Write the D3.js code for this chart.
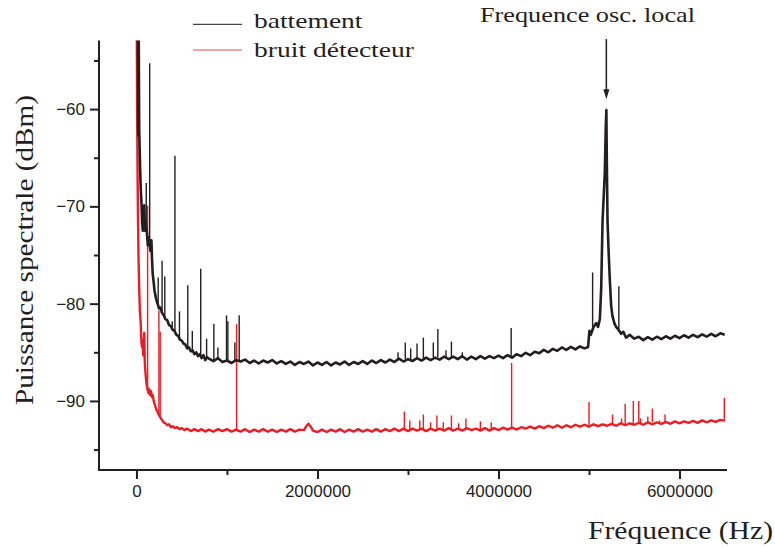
<!DOCTYPE html>
<html><head><meta charset="utf-8">
<script src="https://cdn.jsdelivr.net/npm/d3@7"></script>
<style>body{margin:0;background:#fff} svg{display:block}</style>
</head><body><svg id="chart" width="775" height="548"></svg>
<script>
// ---------- data (frequencies in kHz, power in dBm) ----------
const battFreqKHz = [0,15,20,25,30,40,48,55,62,70,78,86,94,102,116,125,135,155,165,172,180,190,200,210,225,237,250,265,280,300,320,340,360,380,400,420,440,460,480,500,520,540,560,580,600,620,640,660,680,700,720,740,760,780,
800,850,900,950,1000,1050,1100,1150,1200,1250,1300,1350,1400,1450,1500,1550,1600,1650,1700,1750,1800,1850,1900,1950,
2000,2050,2100,2150,2200,2250,2300,2350,2400,2450,2500,2550,2600,2650,2700,2750,2800,2850,2900,2950,
3000,3050,3100,3150,3200,3250,3300,3350,3400,3450,3500,3550,3600,3650,3700,3750,3800,3850,3900,3950,
4000,4050,4100,4150,4200,4250,4300,4350,4400,4450,4500,4550,4600,4650,4700,4750,4800,4850,4900,4950,4990,
5005,5020,5050,5080,5100,5120,5135,5150,5165,5175,5185,5192,5198,5205,5215,5230,5245,5260,5280,5300,5320,5355,5380,5410,5450,
5500,5550,5600,5650,5700,5750,5800,5850,5900,5950,6000,6050,6100,6150,6200,6250,6300,6350,6400,6450,6500];
const battDbm = [-45,-52,-62.7,-52,-62,-66,-68.4,-69.5,-71.5,-72.5,-70.8,-69.9,-72.5,-71.5,-72.8,-74,-73.2,-74.6,-73.5,-75.5,-77,-77.8,-78.7,-79.2,-79.8,-80.1,-80.5,-80.4,-80.9,-81.2,-81.6,-81.7,-82.2,-82.3,-82.7,-82.8,-83.2,-83.3,-83.7,-83.8,-84.1,-84.2,-84.6,-84.5,-84.9,-84.8,-85.2,-85.0,-85.4,-85.2,-85.6,-85.3,-85.8,-85.5,
-85.65,-85.92,-85.6,-86.0,-85.85,-86.1,-85.8,-85.95,-85.75,-86.1,-85.85,-86.15,-85.85,-86.05,-85.8,-86.15,-85.9,-86.2,-85.95,-86.3,-86.0,-86.2,-85.95,-86.35,
-86.05,-86.3,-86.0,-86.35,-86.05,-86.25,-85.95,-86.3,-86.0,-86.2,-85.9,-86.2,-85.85,-86.1,-85.8,-86.05,-85.75,-86.0,-85.65,-85.95,
-85.7,-85.9,-85.6,-85.85,-85.55,-85.8,-85.55,-85.75,-85.45,-85.7,-85.45,-85.7,-85.4,-85.75,-85.45,-85.7,-85.4,-85.65,-85.4,-85.6,
-85.35,-85.6,-85.3,-85.55,-85.2,-85.4,-85.05,-85.3,-84.95,-85.1,-84.75,-85.0,-84.65,-84.85,-84.5,-84.75,-84.45,-84.7,-84.4,-84.6,-84.45,
-82.8,-83.2,-82.4,-82.0,-82.4,-81.6,-78.4,-71.5,-68.5,-66.5,-62,-60.1,-66,-71.5,-74.2,-77.5,-80.2,-81.3,-82.0,-82.4,-82.6,-83.1,-82.9,-83.5,-83.2,
-83.6,-83.4,-83.75,-83.45,-83.7,-83.4,-83.65,-83.35,-83.6,-83.3,-83.55,-83.25,-83.5,-83.2,-83.45,-83.15,-83.4,-83.1,-83.35,-83.05,-83.2];

const battSpikeKHz  = [108,146,240,283,313,395,425,475,567,617,710,775,855,900,995,1010,1087,1135,2890,2970,3030,3100,3170,3280,3330,3420,3480,3600,4140,5040,5330];
const battSpikeBase = [-71.5,-74,-80.2,-80.9,-81.4,-82.6,-82.9,-83.6,-84.6,-84.8,-85.3,-85.6,-85.8,-85.8,-85.8,-85.8,-85.8,-85.8,-85.7,-85.7,-85.7,-85.6,-85.6,-85.5,-85.5,-85.5,-85.5,-85.5,-85.5,-82.7,-82.6];
const battSpikeTop  = [-67.6,-55.3,-77.3,-75.6,-77.2,-81.8,-64.8,-80.8,-78.1,-82.8,-76.4,-83.6,-82.1,-84.5,-81.2,-81.8,-84.0,-81.2,-85.0,-84.0,-84.6,-84.1,-83.5,-84.0,-82.6,-84.8,-83.9,-85.0,-82.5,-76.8,-78.2];

const bruitFreqKHz = [0,4,8,12,17,22,30,38,46,55,62,68,74,80,86,92,100,108,115,132,140,150,160,170,180,190,200,210,220,232,240,270,285,300,320,340,360,380,400,425,450,475,500,530,560,600,640,680,720,760,
800,850,900,950,1000,1050,1100,1150,1200,1250,1300,1350,1400,1450,1500,1550,1600,1650,1700,1750,1800,1850,1880,1900,1930,1950,
2000,2050,2100,2150,2200,2250,2300,2350,2400,2450,2500,2550,2600,2650,2700,2750,2800,2850,2900,2950,
3000,3050,3100,3150,3200,3250,3300,3350,3400,3450,3500,3550,3600,3650,3700,3750,3800,3850,3900,3950,
4000,4050,4100,4150,4200,4250,4300,4350,4400,4450,4500,4550,4600,4650,4700,4750,4800,4850,4900,4950,
5000,5050,5100,5150,5200,5250,5300,5350,5400,5450,5500,5550,5600,5650,5700,5750,5800,5850,5900,5950,
6000,6050,6100,6150,6200,6250,6300,6350,6400,6450,6500];
const bruitDbm = [-40,-53,-61,-66.5,-71.4,-75,-78.5,-80.8,-81.8,-84,-84.5,-83.8,-85.3,-84.2,-83.0,-86.0,-87.2,-88.0,-88.5,-89.2,-88.8,-89.4,-89.0,-89.6,-89.4,-90.0,-90.3,-90.6,-90.9,-91.1,-91.3,-91.8,-92.0,-92.2,-92.3,-92.5,-92.4,-92.7,-92.6,-92.8,-92.7,-92.9,-92.8,-93.0,-92.85,-93.1,-92.9,-93.1,-92.9,-93.15,
-92.95,-93.15,-92.9,-93.1,-92.9,-93.15,-92.95,-93.15,-92.9,-93.2,-92.95,-93.15,-92.9,-93.15,-92.95,-93.2,-92.95,-93.15,-92.9,-93.15,-92.95,-93.0,-92.55,-92.35,-92.7,-93.05,
-93.2,-92.95,-93.2,-92.95,-93.15,-92.9,-93.2,-92.95,-93.15,-92.9,-93.15,-92.95,-93.15,-92.9,-93.15,-92.9,-93.1,-92.85,-93.1,-92.85,
-93.1,-92.85,-93.05,-92.85,-93.1,-92.85,-93.05,-92.85,-93.05,-92.8,-93.05,-92.85,-93.05,-92.8,-93.0,-92.85,-93.05,-92.8,-93.05,-92.8,
-93.0,-92.75,-92.95,-92.75,-92.95,-92.7,-92.85,-92.65,-92.85,-92.6,-92.8,-92.55,-92.75,-92.5,-92.75,-92.5,-92.7,-92.45,-92.65,-92.45,
-92.65,-92.4,-92.6,-92.4,-92.55,-92.35,-92.55,-92.3,-92.5,-92.3,-92.45,-92.25,-92.45,-92.2,-92.4,-92.2,-92.35,-92.15,-92.35,-92.1,
-92.3,-92.1,-92.25,-92.05,-92.25,-92.0,-92.2,-92.0,-92.15,-91.95,-92.05];

const bruitSpikeKHz  = [123,248,262,1106,2960,3020,3130,3170,3250,3320,3390,3480,3560,3640,3800,3920,4145,5000,5260,5360,5400,5490,5550,5570,5650,5700,5780,5840,6495];
const bruitSpikeBase = [-88.9,-91.4,-91.6,-93.0,-92.9,-92.9,-92.9,-92.9,-92.9,-92.9,-92.9,-92.9,-92.9,-92.9,-92.9,-92.9,-92.8,-92.6,-92.5,-92.4,-92.4,-92.4,-92.3,-92.3,-92.2,-92.2,-92.2,-92.2,-92.0];
const bruitSpikeTop  = [-69.9,-80.7,-82.9,-82.1,-91.1,-92.0,-92.0,-91.4,-92.2,-91.5,-92.2,-91.5,-92.3,-91.8,-92.1,-92.2,-86.1,-90.1,-91.4,-91.8,-90.3,-90.0,-90.0,-91.8,-91.6,-90.8,-92.0,-91.4,-89.7];

const xTickValues = [0, 2000000, 4000000, 6000000];
const xMinorTickValues = [1000000, 3000000, 5000000];
const yTickValues = [-90, -80, -70, -60];
const yMinorTickValues = [-95, -85, -75, -65, -55];

const seriesNames = ["battement", "bruit détecteur"];
const seriesColors = ["#231f20", "#ec1c24"];

const xTitle = "Fréquence (Hz)";
const yTitle = "Puissance spectrale (dBm)";
const annotText = "Frequence osc. local";
const arrowFreqHz = 5192000, arrowFromDbm = -52.8, arrowToDbm = -59.0;

// ---------- chart ----------
(function () {
const svg = d3.select("#chart");
const pLeft = 99, pRight = 727, pTop = 40.5, pBottom = 470;
const x = d3.scaleLinear().domain([-414000, 6525000]).range([pLeft, pRight]);
const y = d3.scaleLinear().domain([-97.1, -52.95]).range([pBottom, pTop]);

svg.append("defs").append("clipPath").attr("id", "plotclip")
  .append("rect").attr("x", pLeft).attr("y", pTop).attr("width", pRight - pLeft).attr("height", pBottom - pTop);

const plot = svg.append("g").attr("clip-path", "url(#plotclip)");

function drawSeries(freq, vals, sFreq, sBase, sTop, color, w) {
  const line = d3.line().x(i => x(freq[i] * 1000)).y(i => y(vals[i]));
  plot.append("path").attr("d", line(d3.range(freq.length)))
    .attr("fill", "none").attr("stroke", color).attr("stroke-width", w).attr("stroke-linejoin", "round");
  plot.append("g").selectAll("line").data(d3.range(sFreq.length)).join("line")
    .attr("x1", i => x(sFreq[i] * 1000)).attr("x2", i => x(sFreq[i] * 1000))
    .attr("y1", i => y(sBase[i])).attr("y2", i => y(sTop[i]))
    .attr("stroke", color).attr("stroke-width", 1.4);
}
drawSeries(bruitFreqKHz, bruitDbm, bruitSpikeKHz, bruitSpikeBase, bruitSpikeTop, seriesColors[1], 2.4);
drawSeries(battFreqKHz, battDbm, battSpikeKHz, battSpikeBase, battSpikeTop, seriesColors[0], 2.6);

// axes
const axisColor = "#231f20";
const gx = svg.append("g").attr("transform", `translate(0,${pBottom})`)
  .call(d3.axisBottom(x).tickValues(xTickValues).tickFormat(d3.format("d")).tickSizeInner(9).tickSizeOuter(0).tickPadding(6));
const gxm = svg.append("g").attr("transform", `translate(0,${pBottom})`)
  .call(d3.axisBottom(x).tickValues(xMinorTickValues).tickFormat("").tickSizeInner(5).tickSizeOuter(0));
const gy = svg.append("g").attr("transform", `translate(${pLeft},0)`)
  .call(d3.axisLeft(y).tickValues(yTickValues).tickFormat(d3.format("d")).tickSizeInner(9).tickSizeOuter(0).tickPadding(5));
const gym = svg.append("g").attr("transform", `translate(${pLeft},0)`)
  .call(d3.axisLeft(y).tickValues(yMinorTickValues).tickFormat("").tickSizeInner(5).tickSizeOuter(0));
gxm.select(".domain").remove(); gym.select(".domain").remove();
[gx, gxm, gy, gym].forEach(g => {
  g.selectAll(".domain").attr("stroke", axisColor).attr("stroke-width", 2);
  g.selectAll(".tick line").attr("stroke", axisColor).attr("stroke-width", 2);
  g.selectAll(".tick text").attr("fill", "#231f20").attr("font-family", "'Liberation Sans', Arial, sans-serif").attr("font-size", 17);
});
gx.select(".domain").attr("d", `M${pLeft - 1},0H${pRight}`);
gy.select(".domain").attr("d", `M0,${pBottom}V${pTop}`);

// axis titles
const serif = "'Liberation Serif', 'Times New Roman', serif";
svg.append("text").attr("x", 588).attr("y", 539).text(xTitle)
  .attr("font-family", serif).attr("font-size", 26).attr("fill", "#231f20")
  .attr("textLength", 185).attr("lengthAdjust", "spacingAndGlyphs");
svg.append("text").attr("transform", "translate(33,250) rotate(-90)").attr("text-anchor", "middle").text(yTitle)
  .attr("font-family", serif).attr("font-size", 26).attr("fill", "#231f20")
  .attr("textLength", 310).attr("lengthAdjust", "spacingAndGlyphs");

// legend
const legY = [24.3, 50], legTextY = [28.3, 57.2], legLen = [108.5, 160];
seriesNames.forEach((name, i) => {
  svg.append("line").attr("x1", 193).attr("x2", 242).attr("y1", legY[i]).attr("y2", legY[i])
    .attr("stroke", i === 0 ? "#444" : "#ef4a4f").attr("stroke-width", 1.2);
  svg.append("text").attr("x", 254).attr("y", legTextY[i]).text(name)
    .attr("font-family", serif).attr("font-size", 22).attr("fill", "#231f20")
    .attr("textLength", legLen[i]).attr("lengthAdjust", "spacingAndGlyphs");
});

// annotation
svg.append("text").attr("x", 480).attr("y", 21.7).text(annotText)
  .attr("font-family", serif).attr("font-size", 22).attr("fill", "#231f20")
  .attr("textLength", 215).attr("lengthAdjust", "spacingAndGlyphs");
const ax = x(arrowFreqHz), ay1 = y(arrowFromDbm), ay2 = y(arrowToDbm);
svg.append("line").attr("x1", ax).attr("x2", ax).attr("y1", ay1).attr("y2", ay2 - 8)
  .attr("stroke", "#231f20").attr("stroke-width", 1.5);
svg.append("path").attr("d", `M${ax - 3},${ay2 - 10}L${ax + 3},${ay2 - 10}L${ax},${ay2}Z`).attr("fill", "#231f20");
})();
</script></body></html>
